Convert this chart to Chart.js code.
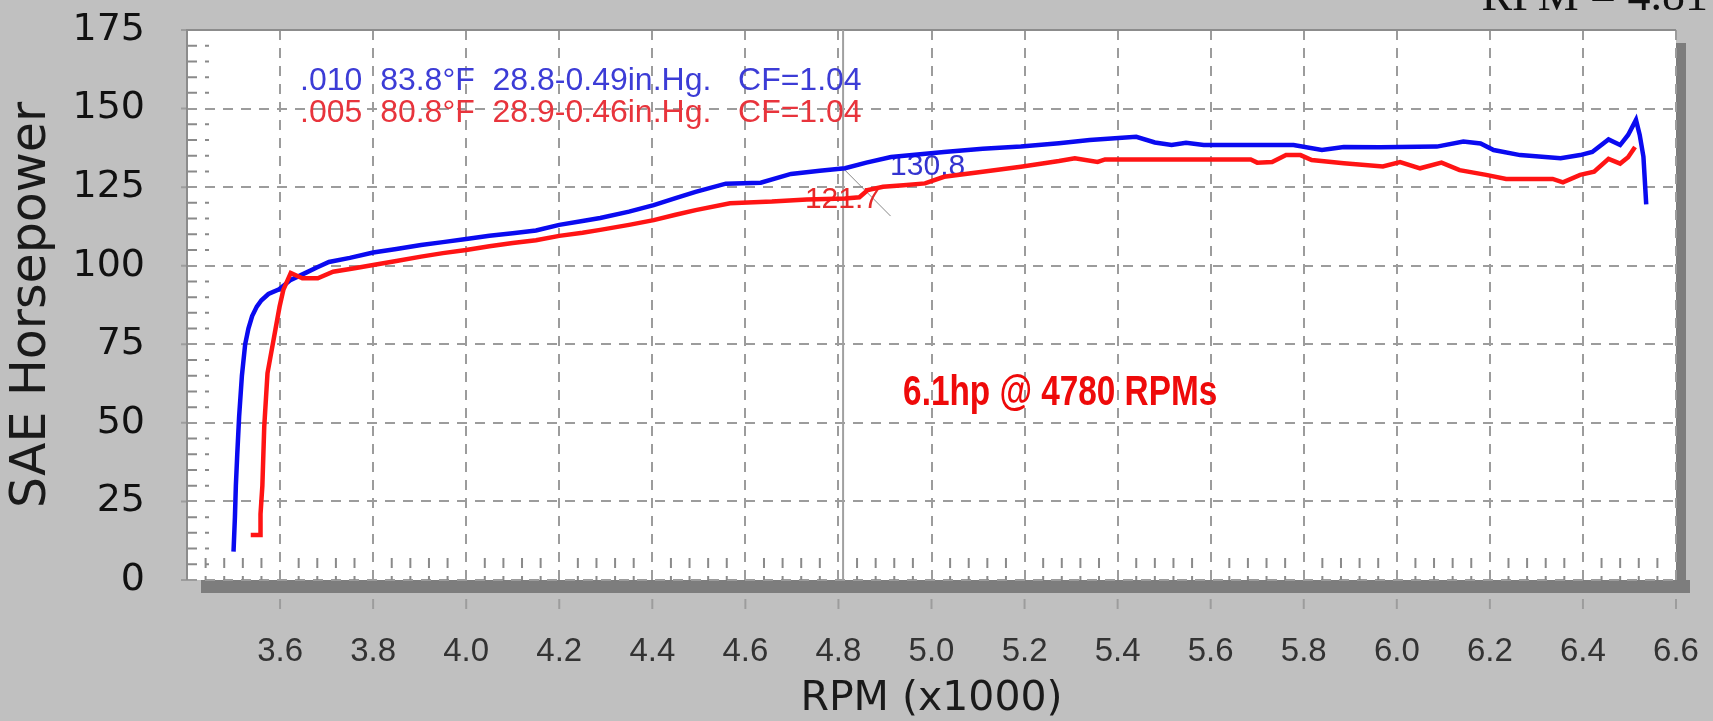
<!DOCTYPE html>
<html>
<head>
<meta charset="utf-8">
<script src="https://cdn.jsdelivr.net/npm/chart.js@4"></script>
<style>
  html, body { margin: 0; padding: 0; background: #c0c0c0; }
  canvas { display: block; }
</style>
</head>
<body>
<canvas id="dyno" width="1713" height="721"></canvas>
<script>
// run .010 (blue) - rpm in thousands, SAE hp
const blueRpm = [3.500, 3.503, 3.505, 3.508, 3.512, 3.518, 3.525, 3.532, 3.540, 3.550, 3.560, 3.575, 3.598, 3.623,
  3.656, 3.680, 3.705, 3.750, 3.800, 3.850, 3.903, 3.950, 4.000, 4.050, 4.100, 4.150, 4.200, 4.250, 4.288, 4.350,
  4.403, 4.450, 4.493, 4.558, 4.633, 4.698, 4.760, 4.814, 4.860, 4.913, 4.970, 5.027, 5.110, 5.192, 5.274, 5.340,
  5.440, 5.480, 5.516, 5.547, 5.585, 5.700, 5.778, 5.839, 5.886, 5.964, 6.086, 6.143, 6.180, 6.208, 6.265, 6.352,
  6.394, 6.420, 6.455, 6.480, 6.497, 6.514, 6.522, 6.530, 6.536];
const blueHp = [9, 20, 30, 40, 52, 65, 75, 80, 84, 87, 89, 91, 92.5, 95.5,
  97.8, 99.5, 101.2, 102.5, 104.2, 105.3, 106.6, 107.5, 108.5, 109.5, 110.3, 111.2, 113, 114.2, 115.2, 117.2,
  119.3, 121.5, 123.5, 126.1, 126.4, 129.2, 130.2, 131, 132.8, 134.6, 135.4, 136.2, 137.2, 137.9, 139, 140,
  141, 139.2, 138.4, 139.1, 138.4, 138.4, 138.4, 136.8, 137.8, 137.7, 137.9, 139.5, 138.9, 136.8, 135.2, 134.2,
  135.2, 136.2, 140.2, 138.4, 141.6, 146.4, 141.6, 134.7, 119.5];

// run .005 (red)
const redRpm = [3.537, 3.557, 3.558, 3.562, 3.566, 3.573, 3.586, 3.599, 3.607, 3.623, 3.648, 3.681, 3.714, 3.760,
  3.800, 3.850, 3.903, 3.950, 4.000, 4.050, 4.100, 4.150, 4.200, 4.250, 4.288, 4.350, 4.403, 4.450, 4.493, 4.567,
  4.657, 4.732, 4.814, 4.845, 4.863, 4.896, 4.940, 4.986, 5.027, 5.110, 5.192, 5.274, 5.308, 5.357, 5.373, 5.470,
  5.577, 5.686, 5.700, 5.732, 5.762, 5.793, 5.817, 5.886, 5.970, 6.007, 6.050, 6.096, 6.135, 6.192, 6.235, 6.335,
  6.357, 6.394, 6.424, 6.455, 6.480, 6.497, 6.512];
const redHp = [14.3, 14.3, 21, 30, 48.8, 65.8, 76.4, 87, 92.3, 97.7, 96, 96, 98.1, 99.2,
  100.2, 101.5, 102.9, 104, 105, 106.2, 107.2, 108.1, 109.5, 110.5, 111.4, 113, 114.5, 116.2, 117.7, 119.9,
  120.4, 121.1, 121.4, 121.8, 124.1, 125.1, 125.6, 126.2, 128.3, 129.9, 131.5, 133.3, 134.2, 133, 133.8, 133.8,
  133.8, 133.8, 132.8, 133, 135.2, 135.2, 133.6, 132.6, 131.6, 133, 131, 132.8, 130.4, 128.9, 127.6, 127.6,
  126.5, 128.9, 129.9, 134, 132.5, 134.5, 137.8];

const xMin = 3.4, xMax = 6.6, xStep = 0.2;
const yMin = 0, yMax = 175, yStep = 25;

const runLabels = ['.010  83.8°F  28.8-0.49in.Hg.   CF=1.04', '.005  80.8°F  28.9-0.46in.Hg.   CF=1.04'];
const cursorRpm = 4.81;
const cursorValues = ['130.8', '121.7'];
const gainNote = '6.1hp @ 4780 RPMs';
const cursorText = 'RPM = 4.81';

const BLUE = '#0a0af0', RED = '#ff1414';
const GRID = '#9c9c9c';

function toPoints(xs, ys) {
  return xs.map((x, i) => ({x: x, y: ys[i]}));
}

// keep the plot box where the dyno software puts it
function noPad(s) {
  s.paddingTop = 0;
  s.paddingBottom = 0;
  s.paddingLeft = 0;
  s.paddingRight = 0;
}

const chrome = {
  id: 'chrome',
  beforeDraw(chart) {
    const {ctx, chartArea: a} = chart;
    ctx.save();
    ctx.fillStyle = '#c0c0c0';
    ctx.fillRect(0, 0, chart.width, chart.height);
    // drop shadow
    ctx.fillStyle = '#7d7d7d';
    ctx.fillRect(a.left + 14, a.bottom, a.right - a.left, 13);
    ctx.fillRect(a.right, a.top + 13, 10, a.bottom - a.top);
    ctx.fillStyle = '#ffffff';
    ctx.fillRect(a.left, a.top, a.right - a.left, a.bottom - a.top);
    ctx.restore();
  },
  beforeDatasetsDraw(chart) {
    const {ctx, chartArea: a, scales: {x, y}} = chart;
    ctx.save();

    // minor ticks
    ctx.strokeStyle = '#8a8a8a';
    ctx.lineWidth = 2;
    ctx.setLineDash([10, 8]);
    ctx.beginPath();
    for (let v = 5; v < yMax; v += 5) {
      if (v % yStep === 0) continue;
      const py = y.getPixelForValue(v);
      ctx.moveTo(a.left, py);
      ctx.lineTo(a.left + 22, py);
    }
    for (let i = 1; i < 80; i++) {
      if (i % 5 === 0) continue;
      const px = x.getPixelForValue(xMin + i * 0.04);
      ctx.moveTo(px, a.bottom - 22);
      ctx.lineTo(px, a.bottom);
    }
    ctx.stroke();
    ctx.setLineDash([]);

    // outside major ticks
    ctx.strokeStyle = GRID;
    ctx.beginPath();
    for (let v = xMin + xStep; v <= xMax + 1e-9; v += xStep) {
      const px = x.getPixelForValue(v);
      ctx.moveTo(px, a.bottom + 19);
      ctx.lineTo(px, a.bottom + 29);
    }
    for (let v = yMin; v <= yMax; v += yStep) {
      const py = y.getPixelForValue(v);
      ctx.moveTo(a.left - 6, py);
      ctx.lineTo(a.left, py);
    }
    ctx.stroke();

    // plot frame (top and left)
    ctx.strokeStyle = '#8c8c8c';
    ctx.beginPath();
    ctx.moveTo(a.left, a.bottom);
    ctx.lineTo(a.left, a.top);
    ctx.lineTo(a.right, a.top);
    ctx.stroke();

    // cursor
    const cx = x.getPixelForValue(cursorRpm);
    ctx.strokeStyle = '#a0a0a0';
    ctx.lineWidth = 2;
    ctx.beginPath();
    ctx.moveTo(cx, a.top);
    ctx.lineTo(cx, a.bottom);
    ctx.stroke();

    // leader from the cursor point
    ctx.strokeStyle = '#888888';
    ctx.lineWidth = 1;
    ctx.beginPath();
    ctx.moveTo(cx, y.getPixelForValue(131));
    ctx.lineTo(x.getPixelForValue(4.912), y.getPixelForValue(115.8));
    ctx.stroke();

    // run info
    ctx.textBaseline = 'alphabetic';
    ctx.textAlign = 'left';
    ctx.font = '32px "Liberation Sans", Arial, sans-serif';
    ctx.fillStyle = '#3c3cd6';
    ctx.fillText(runLabels[0], x.getPixelForValue(3.643), y.getPixelForValue(155.9));
    ctx.fillStyle = '#e8343c';
    ctx.fillText(runLabels[1], x.getPixelForValue(3.643), y.getPixelForValue(145.7));

    // cursor readouts
    ctx.font = '30px "Liberation Sans", Arial, sans-serif';
    ctx.fillStyle = '#3434d0';
    ctx.fillText(cursorValues[0], x.getPixelForValue(4.911), y.getPixelForValue(128.9));
    ctx.fillStyle = '#e62a2a';
    ctx.fillText(cursorValues[1], x.getPixelForValue(4.728), y.getPixelForValue(118.4));

    // gain note, squeezed like a narrow bold face
    ctx.font = 'bold 42px "Liberation Sans", Arial, sans-serif';
    ctx.fillStyle = '#ee0a0a';
    const nx = x.getPixelForValue(4.939);
    const ny = y.getPixelForValue(55.7);
    const want = x.getPixelForValue(5.614) - nx;
    const k = Math.min(1, want / ctx.measureText(gainNote).width);
    ctx.translate(nx, ny);
    ctx.scale(k, 1);
    ctx.fillText(gainNote, 0, 0);

    ctx.restore();
  },
  afterDraw(chart) {
    const {ctx} = chart;
    ctx.save();
    ctx.font = '46px "Liberation Serif", "Times New Roman", serif';
    ctx.fillStyle = '#111111';
    ctx.textAlign = 'right';
    ctx.textBaseline = 'alphabetic';
    ctx.fillText(cursorText, 1708, 10);
    ctx.restore();
  }
};

Chart.defaults.font.family = '"Liberation Sans", Arial, sans-serif';

const config = {
  type: 'line',
  data: {
    datasets: [
      {
        label: '.005',
        data: toPoints(redRpm, redHp),
        borderColor: RED,
        backgroundColor: RED,
        borderWidth: 4.5,
        pointRadius: 0,
        tension: 0,
        fill: false
      },
      {
        label: '.010',
        data: toPoints(blueRpm, blueHp),
        borderColor: BLUE,
        backgroundColor: BLUE,
        borderWidth: 4.5,
        pointRadius: 0,
        tension: 0,
        fill: false
      }
    ]
  },
  options: {
    responsive: false,
    animation: false,
    devicePixelRatio: 1,
    layout: {padding: {top: 30, right: 37, left: 0, bottom: 0}},
    plugins: {
      legend: {display: false},
      tooltip: {enabled: false}
    },
    scales: {
      x: {
        type: 'linear',
        min: xMin,
        max: xMax,
        afterFit(s) { s.height = 141; noPad(s); },
        ticks: {
          stepSize: xStep,
          autoSkip: false,
          maxRotation: 0,
          padding: 52,
          color: '#333333',
          font: {size: 33},
          callback: v => (v < 3.5 ? '' : v.toFixed(1))
        },
        grid: {color: GRID, lineWidth: 2, drawTicks: false},
        border: {display: false, dash: [10, 8]},
        title: {
          display: true,
          text: 'RPM (x1000)',
          color: '#1a1a1a',
          font: {family: '"DejaVu Sans", sans-serif', size: 41, lineHeight: 1.05},
          padding: {top: 0, bottom: 0}
        }
      },
      y: {
        min: yMin,
        max: yMax,
        afterFit(s) { s.width = 187; noPad(s); },
        ticks: {
          stepSize: yStep,
          padding: 42,
          color: '#111111',
          font: {family: '"DejaVu Sans", sans-serif', size: 38}
        },
        grid: {color: GRID, lineWidth: 2, drawTicks: false},
        border: {display: false, dash: [10, 8]},
        title: {
          display: true,
          text: 'SAE Horsepower',
          color: '#1a1a1a',
          font: {family: '"DejaVu Sans", sans-serif', size: 49, lineHeight: 1.2},
          padding: {top: 3, bottom: 0}
        }
      }
    }
  },
  plugins: [chrome]
};

new Chart(document.getElementById('dyno'), config);
</script>
</body>
</html>
